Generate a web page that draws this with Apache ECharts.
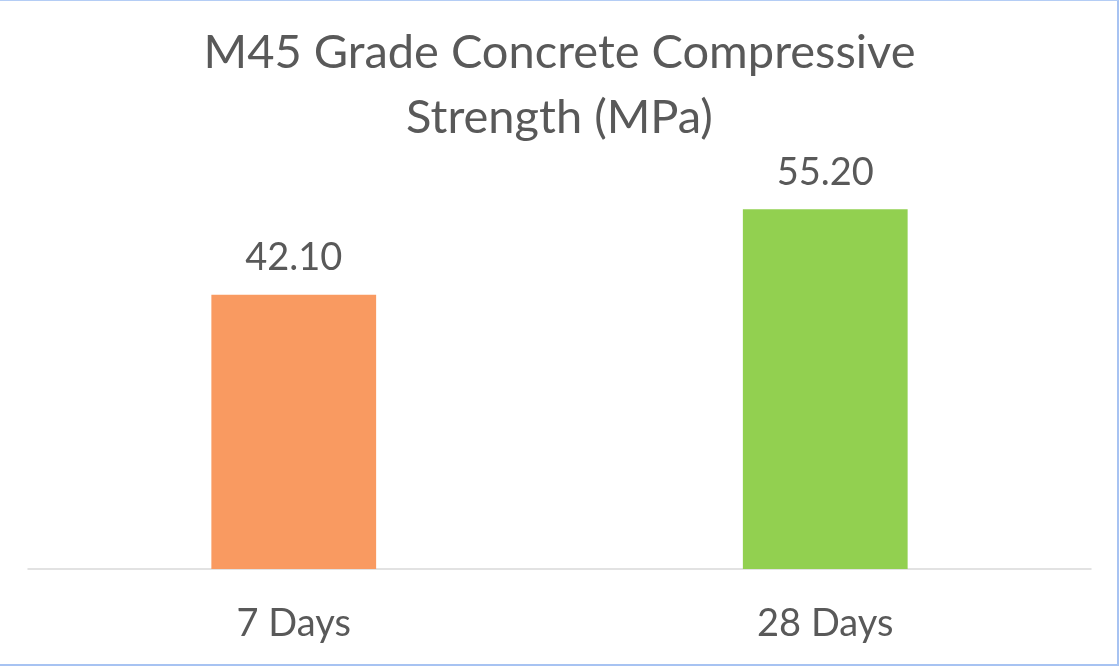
<!DOCTYPE html>
<html>
<head>
<meta charset="utf-8">
<script src="https://cdn.jsdelivr.net/npm/echarts@6/dist/echarts.min.js"></script>
<style>
    html, body { margin: 0; padding: 0; background: #fff; }
    #wrap { position: relative; width: 1119px; height: 666px; }
    #chart { position: absolute; left: 0; top: 0; width: 1119px; height: 666px; }
    #frame {
        position: absolute; left: 0; top: 0; width: 1119px; height: 666px;
        box-sizing: border-box; pointer-events: none;
        border-top: 1px solid #b4cdf5;
        border-right: 2px solid #a7c3f2;
        border-bottom: 2px solid #a7c3f2;
    }
</style>
</head>
<body>
<div id="wrap">
    <div id="chart"></div>
    <div id="frame"></div>
</div>
<script>
// 龄期
const categories = ['7 Days', '28 Days']
// 抗压强度 (MPa)
const strength = [42.10, 55.20]
const barColors = ['#f99a61', '#92d050']

const chart = echarts.init(document.getElementById('chart'))
const textColor = '#595959'
const fontName = 'Lato'

const option = {
    animation: false,
    title: {
        text: 'M45 Grade Concrete Compressive\nStrength (MPa)',
        left: 'center',
        top: 15,
        textStyle: {
            fontFamily: fontName,
            fontWeight: 'normal',
            fontSize: 47,
            lineHeight: 65,
            color: textColor
        }
    },
    grid: {
        left: 28,
        right: 28,
        top: 178,
        bottom: 97
    },
    xAxis: {
        type: 'category',
        data: categories,
        axisLine: { lineStyle: { color: '#d9d9d9', width: 1.5 } },
        axisTick: { show: false },
        axisLabel: {
            margin: 36,
            fontFamily: fontName,
            fontSize: 38,
            color: textColor
        }
    },
    yAxis: {
        type: 'value',
        min: 0,
        max: 60,
        show: false,
        splitLine: { show: false }
    },
    series: [{
        type: 'bar',
        barWidth: '31%',
        data: strength.map((v, i) => ({
            value: v,
            itemStyle: { color: barColors[i] }
        })),
        label: {
            show: true,
            position: 'top',
            distance: 18,
            fontFamily: fontName,
            fontSize: 38,
            color: textColor,
            formatter: (p) => p.value.toFixed(2)
        }
    }]
}
chart.setOption(option)
</script>
</body>
</html>
